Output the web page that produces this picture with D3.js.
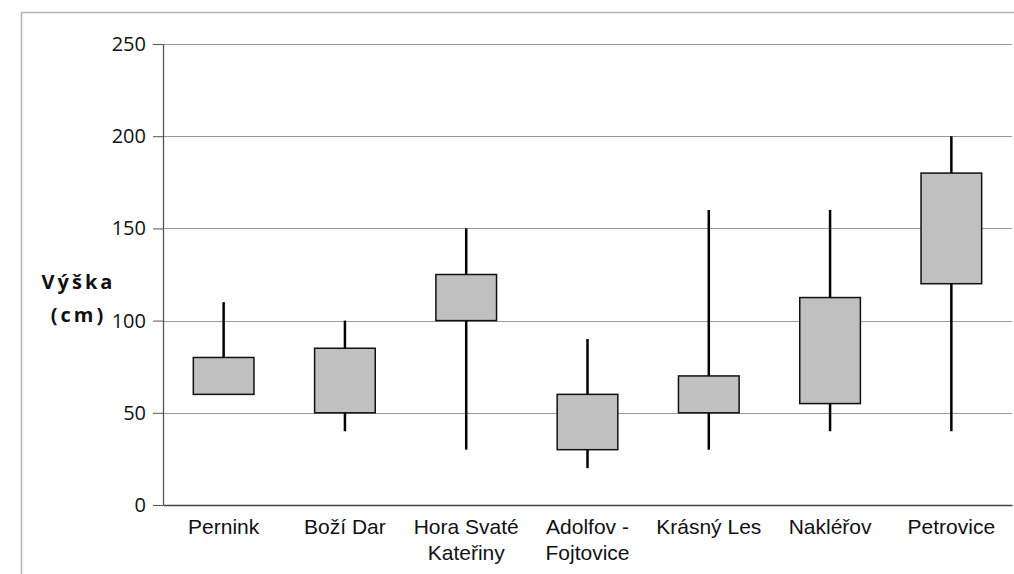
<!DOCTYPE html>
<html>
<head>
<meta charset="utf-8">
<script src="https://cdn.jsdelivr.net/npm/d3@7"></script>
<style>
  body { margin: 0; background: #fff; }
  svg { display: block; }
</style>
</head>
<body>
<div class="chart"></div>
<script>
const categories = ["Pernink", "Boží Dar", "Hora Svaté Kateřiny", "Adolfov - Fojtovice", "Krásný Les", "Nakléřov", "Petrovice"];
const mins = [60, 40, 30, 20, 30, 40, 40];
const q1s = [60, 50, 100, 30, 50, 55, 120];
const q3s = [80, 85, 125, 60, 70, 112.5, 180];
const maxs = [110, 100, 150, 90, 160, 160, 200];
const yTicks = [0, 50, 100, 150, 200, 250];

const width = 1014;
const height = 574;
const margin = { top: 44, right: 2, bottom: 69, left: 163 };

const data = categories.map(function(c, i) {
  return { name: c, min: mins[i], q1: q1s[i], q3: q3s[i], max: maxs[i] };
});

const svg = d3
  .select(".chart")
  .append("svg")
  .attr("width", width)
  .attr("height", height);

// outer chart frame (cropped at right and bottom)
svg.append("path")
  .attr("d", "M21.5," + height + "V12.5H" + width)
  .attr("fill", "none")
  .attr("stroke", "#b4b4b4")
  .attr("stroke-width", 1.5);

const x = d3
  .scaleBand()
  .domain(categories)
  .range([margin.left, width - margin.right]);

const y = d3
  .scaleLinear()
  .domain([0, 250])
  .range([height - margin.bottom, margin.top]);

// gridlines
svg.append("g")
  .selectAll("line")
  .data(yTicks.slice(1))
  .enter()
  .append("line")
  .attr("x1", margin.left)
  .attr("x2", width - margin.right)
  .attr("y1", d => Math.round(y(d)) + 0.5)
  .attr("y2", d => Math.round(y(d)) + 0.5)
  .attr("stroke", "#9a9a9a")
  .attr("stroke-width", 1);

// y axis
const yAxis = svg.append("g")
  .attr("transform", "translate(" + margin.left + ",0)")
  .call(d3.axisLeft(y).tickValues(yTicks).tickSize(10).tickPadding(7).tickSizeOuter(0));
yAxis.select(".domain").attr("stroke", "#555").attr("stroke-width", 1.3);
yAxis.selectAll(".tick line").attr("stroke", "#555");
yAxis.selectAll("text")
  .attr("fill", "#111")
  .style("font-family", "'Open Sans', sans-serif")
  .style("font-size", "20px");

// whiskers
const boxW = x.bandwidth() * 0.5;
const g = svg.append("g");
g.selectAll("line.whisker")
  .data(data)
  .enter()
  .append("line")
  .attr("class", "whisker")
  .attr("x1", d => x(d.name) + x.bandwidth() / 2)
  .attr("x2", d => x(d.name) + x.bandwidth() / 2)
  .attr("y1", d => y(d.min))
  .attr("y2", d => y(d.max))
  .attr("stroke", "#000")
  .attr("stroke-width", 2.5);

g.selectAll("rect")
  .data(data)
  .enter()
  .append("rect")
  .attr("x", d => x(d.name) + (x.bandwidth() - boxW) / 2)
  .attr("width", boxW)
  .attr("y", d => y(d.q3))
  .attr("height", d => y(d.q1) - y(d.q3))
  .attr("fill", "#c0c0c0")
  .attr("stroke", "#111")
  .attr("stroke-width", 1.5);

// x axis
const xAxis = svg.append("g")
  .attr("transform", "translate(0," + (height - margin.bottom) + ")")
  .call(d3.axisBottom(x).tickSize(0).tickPadding(14));
xAxis.select(".domain").attr("stroke", "#444").attr("stroke-width", 1.5);
xAxis.selectAll("text")
  .attr("fill", "#111")
  .style("font-family", "'Liberation Sans', Arial, sans-serif")
  .style("font-size", "21px")
  .call(wrap, 118);

function wrap(text, w) {
  text.each(function() {
    const t = d3.select(this);
    const words = t.text().split(/\s+/);
    const yy = t.attr("y");
    const dy = parseFloat(t.attr("dy"));
    t.text(null);
    let line = [];
    let lineNo = 0;
    let tspan = t.append("tspan").attr("x", 0).attr("y", yy).attr("dy", dy + "em");
    words.forEach(function(word) {
      line.push(word);
      tspan.text(line.join(" "));
      if (tspan.node().getComputedTextLength() > w && line.length > 1) {
        line.pop();
        tspan.text(line.join(" "));
        line = [word];
        lineNo++;
        tspan = t.append("tspan").attr("x", 0).attr("y", yy)
          .attr("dy", (dy + lineNo * 1.24) + "em").text(word);
      }
    });
  });
}

// y axis title
const title = svg.append("text")
  .attr("text-anchor", "middle")
  .attr("fill", "#111")
  .style("font-family", "'Open Sans', sans-serif")
  .style("font-size", "20px")
  .style("font-weight", "bold")
  .style("letter-spacing", "3px");
title.append("tspan").attr("x", 78.5).attr("y", 289).text("Výška");
title.append("tspan").attr("x", 78.5).attr("y", 322).text("(cm)");
</script>
</body>
</html>
